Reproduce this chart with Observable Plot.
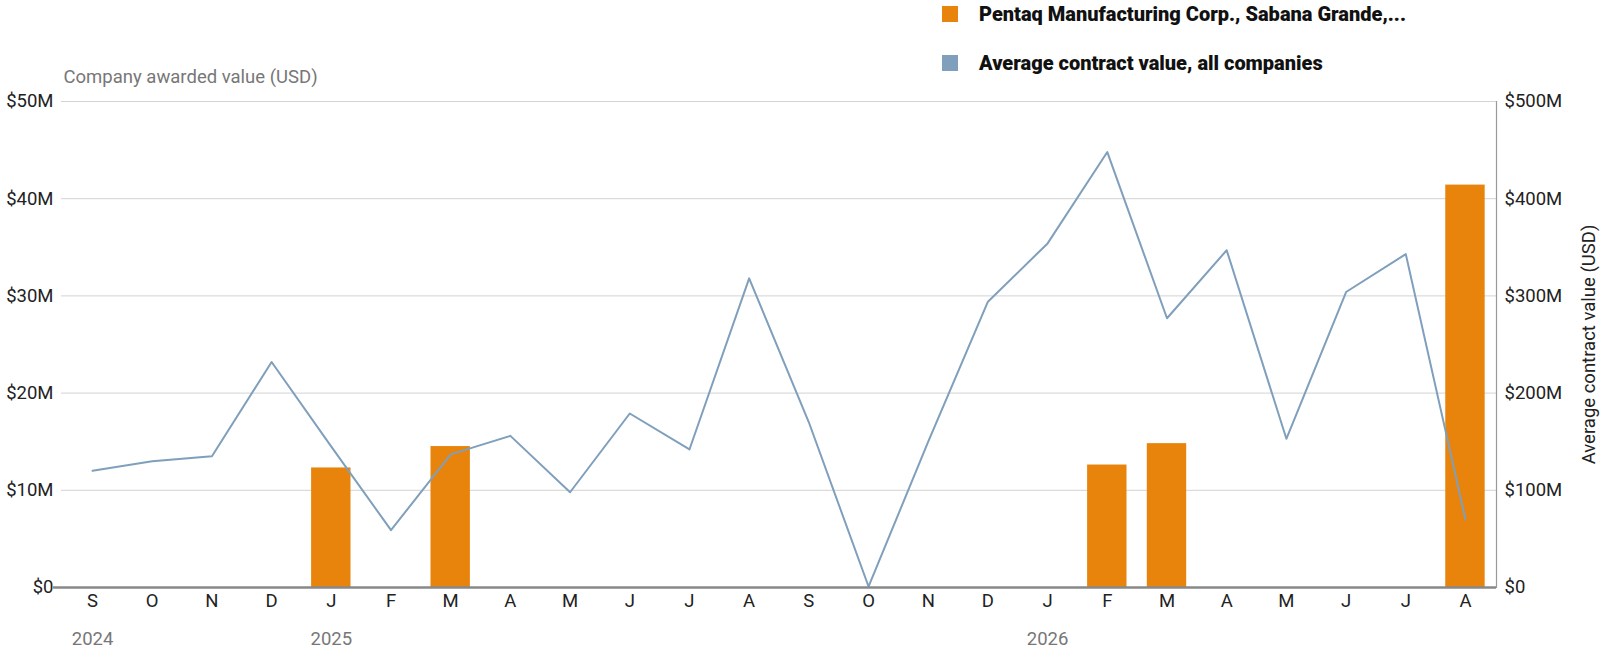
<!DOCTYPE html>
<html>
<head>
<meta charset="utf-8">
<script src="https://cdn.jsdelivr.net/npm/d3@7"></script>
<script src="https://cdn.jsdelivr.net/npm/@observablehq/plot@0.6"></script>
<style>
  html, body { margin: 0; padding: 0; background: #fff; }
  #wrap { position: relative; width: 1606px; height: 656px; font-family: Roboto, "Liberation Sans", sans-serif; }
  .legend { position: absolute; left: 942px; font-weight: 900; font-size: 20px; color: #111; display: flex; align-items: center; white-space: nowrap; }
  .legend .sw { width: 16px; height: 16px; margin-right: 21px; flex: none; }
</style>
</head>
<body>
<div id="wrap">
  <div class="legend" style="top:2px"><span class="sw" style="background:#E8830C"></span>Pentaq Manufacturing Corp., Sabana Grande,...</div>
  <div class="legend" style="top:51px"><span class="sw" style="background:#7F9FBC"></span>Average contract value, all companies</div>
</div>
<script>
const months = ["2024-09","2024-10","2024-11","2024-12","2025-01","2025-02","2025-03","2025-04","2025-05","2025-06","2025-07","2025-08","2025-09","2025-10","2025-11","2025-12","2026-01","2026-02","2026-03","2026-04","2026-05","2026-06","2026-07","2026-08"];
const monthLabels = ["S","O","N","D","J","F","M","A","M","J","J","A","S","O","N","D","J","F","M","A","M","J","J","A"];
// Company awarded value, $M
const companyValues = [0,0,0,0,12.3,0,14.5,0,0,0,0,0,0,0,0,0,0,12.6,14.8,0,0,0,0,41.4];
// Average contract value, all companies, $M
const avgValues = [120,130,135,232,145,59,137,156,98,179,142,318,170,1,150,294,354,448,277,347,153,304,343,70];
const leftTicks = [0,10,20,30,40,50];
const yearTicks = ["2024-09","2025-01","2026-01"];
const yearLabels = ["2024","2025","2026"];

const barData = months.map((m,i) => ({month: m, value: companyValues[i]})).filter(d => d.value > 0);
const lineData = months.map((m,i) => ({month: m, value: avgValues[i]}));

const chart = Plot.plot({
  width: 1606,
  height: 656,
  marginTop: 101,
  marginBottom: 69,
  marginLeft: 61,
  marginRight: 110,
  style: {fontFamily: "Roboto, 'Liberation Sans', sans-serif", fontSize: "18.5px", color: "#222", background: "transparent"},
  x: {type: "band", domain: months, paddingInner: 0.34, paddingOuter: 0.19, round: false, label: null},
  y: {domain: [0, 50], label: null},
  marks: [
    Plot.gridY(leftTicks, {stroke: "#d3d3d3", strokeOpacity: 1}),
    Plot.frame({anchor: "right", stroke: "#999", strokeWidth: 1.2}),
    Plot.axisY({ticks: leftTicks, tickSize: 0, tickPadding: 8, tickFormat: d => d === 0 ? "$0" : `$${d}M`, label: null}),
    Plot.axisY({anchor: "right", ticks: leftTicks, tickSize: 0, tickPadding: 8, tickFormat: d => d === 0 ? "$0" : `$${d*10}M`,
      label: "Average contract value (USD)", labelAnchor: "center", labelOffset: 98, labelArrow: "none"}),
    Plot.axisX({tickSize: 0, tickPadding: 6, tickFormat: d => monthLabels[months.indexOf(d)]}),
    Plot.axisX({ticks: yearTicks, tickSize: 0, tickPadding: 44, fill: "#777", tickFormat: d => yearLabels[yearTicks.indexOf(d)]}),
    Plot.text(["Company awarded value (USD)"], {frameAnchor: "top-left", dx: 2, dy: -32, textAnchor: "start", fill: "#777", fontSize: 18.5}),
    Plot.barY(barData, {x: "month", y: "value", fill: "#E8830C"}),
    Plot.lineY(lineData, {x: "month", y: d => d.value / 10, stroke: "#7F9FBC", strokeWidth: 2}),
    Plot.ruleY([0], {stroke: "#888", strokeWidth: 2.5, insetLeft: -8})
  ]
});
chart.style.position = "absolute";
chart.style.left = "0";
chart.style.top = "0";
document.getElementById("wrap").appendChild(chart);
</script>
</body>
</html>
